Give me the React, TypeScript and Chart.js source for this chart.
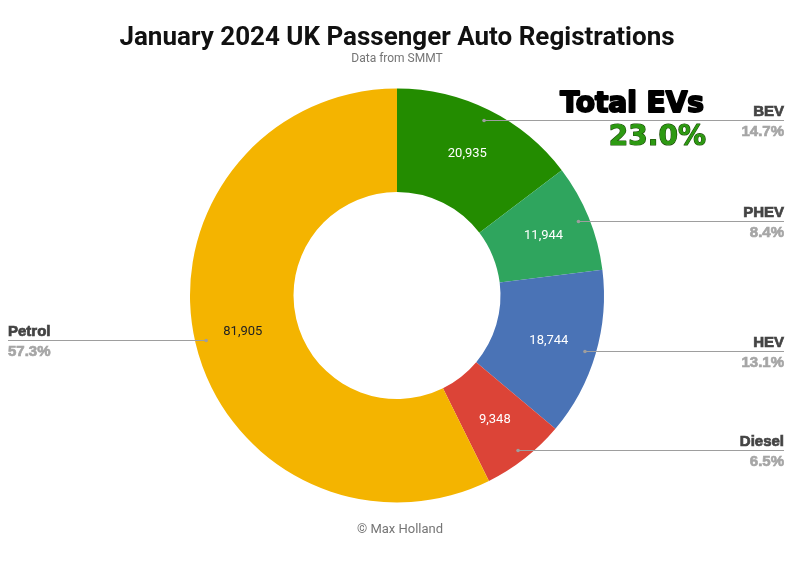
import { useEffect, useRef } from 'react';
import { Chart, registerables } from 'chart.js';

Chart.register(...registerables);

const categories = ['BEV', 'PHEV', 'HEV', 'Diesel', 'Petrol'];
const registrations = [20935, 11944, 18744, 9348, 81905];
const evCategories = ['BEV', 'PHEV'];
const sliceColors = ['#238c00', '#2fa55e', '#4a73b6', '#dc4437', '#f4b400'];
const valueLabelColors = ['#ffffff', '#ffffff', '#ffffff', '#ffffff', '#222222'];

const titleText = 'January 2024 UK Passenger Auto Registrations';
const subtitleText = 'Data from SMMT';
const creditText = '\u00A9 Max Holland';
const evHeadline = 'Total EVs';

export default function App() {
  const ref = useRef<HTMLCanvasElement>(null);

  useEffect(() => {
    document.body.style.margin = '0';
    const canvas = ref.current;
    if (!canvas) return;
    const total = registrations.reduce((a, b) => a + b, 0);
    const evTotal = categories.reduce(
      (s, c, i) => (evCategories.includes(c) ? s + registrations[i] : s),
      0
    );

    const annotPlugin = {
      id: 'annot',
      afterDraw(chart: any) {
        const ctx: CanvasRenderingContext2D = chart.ctx;
        const meta = chart.getDatasetMeta(0);
        ctx.save();

        // Title
        ctx.textAlign = 'center';
        ctx.textBaseline = 'alphabetic';
        ctx.fillStyle = '#111111';
        ctx.font = 'bold 26px Roboto';
        ctx.fillText(titleText, 397, 45);
        ctx.fillStyle = '#757575';
        ctx.font = '12px Roboto';
        ctx.fillText(subtitleText, 397, 62);
        ctx.font = '13px Roboto';
        ctx.fillText(creditText, 400, 533);

        meta.data.forEach((arc: any, i: number) => {
          const p = arc.getProps(['x', 'y', 'startAngle', 'endAngle', 'outerRadius', 'innerRadius'], true);
          const mid = (p.startAngle + p.endAngle) / 2;
          const lr = p.innerRadius + 0.53 * (p.outerRadius - p.innerRadius);

          // value label inside the slice
          ctx.font = '13px Roboto';
          ctx.textAlign = 'center';
          ctx.textBaseline = 'middle';
          ctx.fillStyle = valueLabelColors[i];
          ctx.fillText(
            registrations[i].toLocaleString('en-US'),
            p.x + Math.cos(mid) * lr,
            p.y + Math.sin(mid) * lr
          );

          // callout
          const dr = p.outerRadius - 11;
          const dx = p.x + Math.cos(mid) * dr;
          const dy = Math.round(p.y + Math.sin(mid) * dr) + 0.5;
          const right = Math.cos(mid) >= 0;
          const endX = right ? 784 : 8;
          ctx.strokeStyle = '#9e9e9e';
          ctx.lineWidth = 1;
          ctx.beginPath();
          ctx.moveTo(dx, dy);
          ctx.lineTo(endX, dy);
          ctx.stroke();
          ctx.fillStyle = '#9e9e9e';
          ctx.beginPath();
          ctx.arc(dx, dy, 1.8, 0, Math.PI * 2);
          ctx.fill();

          ctx.textAlign = right ? 'right' : 'left';
          ctx.textBaseline = 'alphabetic';
          ctx.font = 'bold 15px "Liberation Sans"';
          ctx.fillStyle = '#444444';
          ctx.strokeStyle = '#444444';
          ctx.lineWidth = 0.7;
          ctx.fillText(categories[i], endX, dy - 5);
          ctx.strokeText(categories[i], endX, dy - 5);
          const pct = ((registrations[i] / total) * 100).toFixed(1) + '%';
          ctx.fillStyle = '#a6a6a6';
          ctx.strokeStyle = '#a6a6a6';
          ctx.fillText(pct, endX, dy + 15);
          ctx.strokeText(pct, endX, dy + 15);
        });

        // Total EVs annotation
        ctx.textAlign = 'right';
        ctx.textBaseline = 'alphabetic';
        ctx.font = 'bold 28px "DejaVu Sans"';
        ctx.lineJoin = 'round';
        ctx.fillStyle = '#000000';
        ctx.strokeStyle = '#000000';
        ctx.lineWidth = 2;
        ctx.strokeText(evHeadline, 704, 112);
        ctx.fillText(evHeadline, 704, 112);
        const evPct = ((evTotal / total) * 100).toFixed(1) + '%';
        ctx.font = 'bold 28px "DejaVu Sans"';
        ctx.strokeStyle = '#1c4a08';
        ctx.lineWidth = 1.2;
        ctx.strokeText(evPct, 706, 145);
        ctx.fillStyle = '#2d9a12';
        ctx.fillText(evPct, 706, 145);

        ctx.restore();
      },
    };

    const chart = new Chart(canvas, {
      type: 'doughnut',
      data: {
        labels: categories,
        datasets: [
          {
            data: registrations,
            backgroundColor: sliceColors,
            borderWidth: 0,
          },
        ],
      },
      options: {
        responsive: false,
        animation: false,
        devicePixelRatio: 1,
        cutout: '50%',
        events: [],
        layout: { padding: { top: 88, bottom: 63, left: 190, right: 196 } },
        plugins: {
          legend: { display: false },
          title: { display: false },
          tooltip: { enabled: false },
        },
      },
      plugins: [annotPlugin],
    });

    return () => chart.destroy();
  }, []);

  return (
    <div style={{ width: 800, height: 566, background: '#ffffff' }}>
      <canvas ref={ref} width={800} height={566} style={{ display: 'block' }} />
    </div>
  );
}
